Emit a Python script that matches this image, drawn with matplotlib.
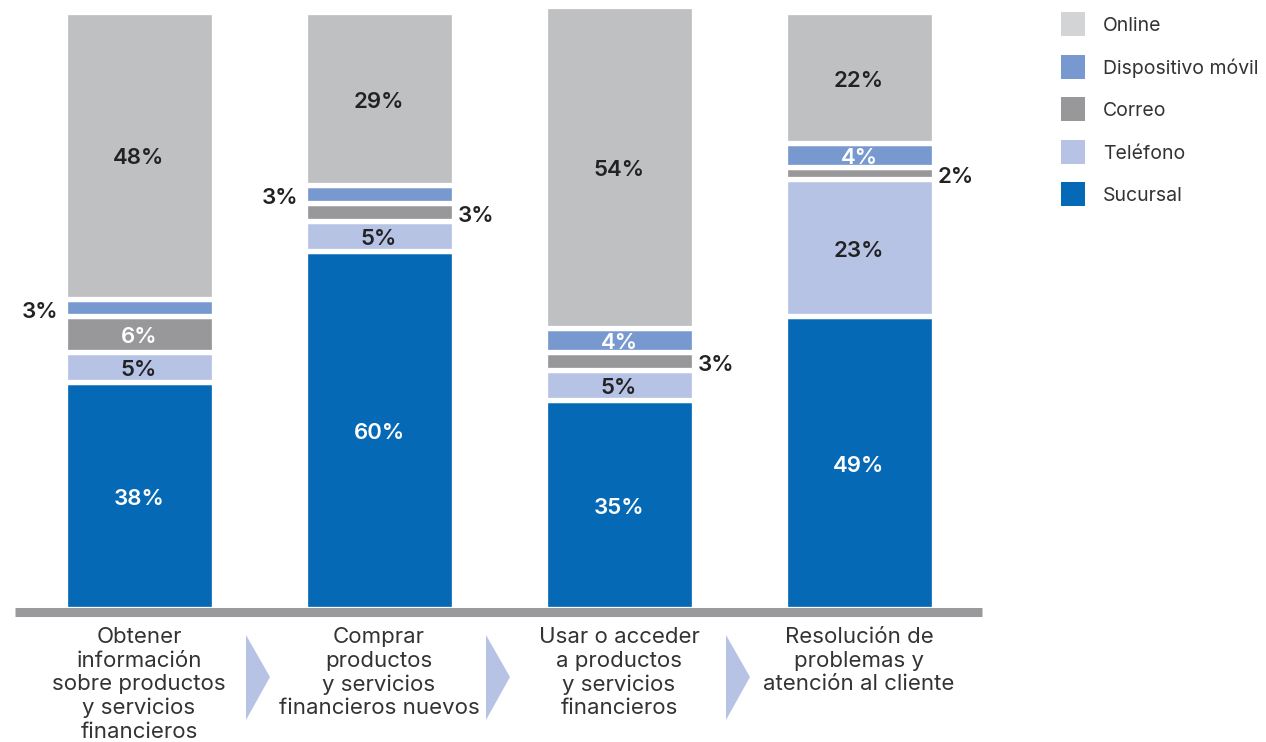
import matplotlib.pyplot as plt
from matplotlib.patches import Rectangle, Polygon

plt.rcParams['font.family'] = ['Inter', 'DejaVu Sans']

categories = [
    "Obtener\ninformación\nsobre productos\ny servicios\nfinancieros",
    "Comprar\nproductos\ny servicios\nfinancieros nuevos",
    "Usar o acceder\na productos\ny servicios\nfinancieros",
    "Resolución de\nproblemas y\natención al cliente",
]
series = ["Sucursal", "Teléfono", "Correo", "Dispositivo móvil", "Online"]
sucursal = [38, 60, 35, 49]
telefono = [5, 5, 5, 23]
correo = [6, 3, 3, 2]
movil = [3, 3, 4, 4]
online = [48, 29, 54, 22]
values = [sucursal, telefono, correo, movil, online]

colors = ["#0569b5", "#b6c3e5", "#98989b", "#7899cf", "#bfc0c2"]
legend_colors = ["#0569b5", "#b6c3e5", "#98989b", "#7899cf", "#d3d4d6"]
inside_text = ["white", "#222222", "white", "white", "#222222"]

# where each label goes: 'in', 'left', 'right'
placement = [
    ["in", "in", "in", "in"],
    ["in", "in", "in", "in"],
    ["in", "right", "right", "right"],
    ["left", "left", "in", "in"],
    ["in", "in", "in", "in"],
]

W, H = 1266, 742
fig = plt.figure(figsize=(W / 100, H / 100), dpi=100)
ax = fig.add_axes([15 / W, (H - 609) / H, 967 / W, 603 / H])
ax.set_xlim(-124 / 240, 3 + 123 / 240)
ax.set_ylim(0, 101)
ax.axis("off")

px = 101 / 603  # data units per pixel (y)
x = list(range(len(categories)))
bw = 149 / 240
lab_kw = dict(fontsize=16, fontweight="semibold")
bottoms = [0] * len(categories)
for i, (name, vals) in enumerate(zip(series, values)):
    ax.bar(x, vals, bw, bottom=bottoms, color=colors[i], edgecolor="white",
           linewidth=3.8, zorder=2)
    for j, v in enumerate(vals):
        yc = bottoms[j] + v / 2
        where = placement[i][j]
        if where == "in":
            ax.text(j, yc - 3 * px, f"{v}%", ha="center", va="center",
                    color=inside_text[i], zorder=3, **lab_kw)
        elif where == "left":
            ax.text(j - 72 / 240 - 9 / 240, yc - 4 * px, f"{v}%", ha="right",
                    va="center", color="#222222", **lab_kw)
        else:
            ax.text(j + 72 / 240 + 7 / 240, yc - 4 * px, f"{v}%", ha="left",
                    va="center", color="#222222", **lab_kw)
    bottoms = [b + v for b, v in zip(bottoms, vals)]

# baseline
ax.axhline(-2.5 * px, color="#9a9a9d", linewidth=6.5, clip_on=False,
           solid_capstyle="butt", zorder=4)

# category labels
for j, lab in enumerate(categories):
    ax.text(j, -18 * px, lab, ha="center", va="top", fontsize=16,
            fontweight="normal", color="#333333", linespacing=1.22)

# chevrons between categories
for j in range(len(categories) - 1):
    xl = j + 0.5 - 13 / 240
    xr = j + 0.5 + 11 / 240
    tri = Polygon([(xl, -26 * px), (xr, -68 * px), (xl, -111 * px)],
                  closed=True, facecolor="#b7c3e4", edgecolor="none",
                  clip_on=False)
    ax.add_patch(tri)

# legend
legend_order = [4, 3, 2, 1, 0]
for k, i in enumerate(legend_order):
    yc = 24 + k * 42.6
    fig.add_artist(Rectangle((1061 / W, 1 - (yc + 12) / H), 24 / W, 24 / H,
                             transform=fig.transFigure,
                             facecolor=legend_colors[i], edgecolor="none"))
    fig.text(1103 / W, 1 - (yc + 2) / H, series[i], ha="left", va="center",
             fontsize=14, fontweight="normal", color="#333333")

fig.savefig("out.png", dpi=100)
